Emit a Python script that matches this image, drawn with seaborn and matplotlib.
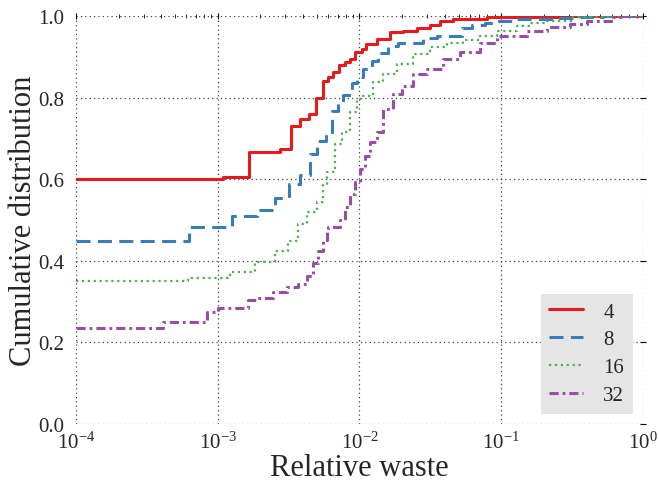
import pandas as pd
import seaborn as sns
import matplotlib.pyplot as plt

# Step breakpoints: relative waste (x) and CDF after each step (y)
waste_4 = [1e-4, 1.09e-3, 1.65e-3, 2.75e-3, 3.29e-3, 3.80e-3, 4.41e-3, 4.93e-3, 5.53e-3,
           6.0e-3, 6.5e-3, 7.16e-3, 7.9e-3, 8.57e-3, 9.3e-3, 1.04e-2, 1.12e-2, 1.32e-2,
           1.64e-2, 2.03e-2, 2.53e-2, 3.14e-2, 3.7e-2, 4.57e-2, 7.9e-2, 0.26, 1.0]
cdf_4 = [0.600, 0.606, 0.666, 0.674, 0.731, 0.748, 0.761, 0.798, 0.841,
         0.850, 0.862, 0.881, 0.888, 0.895, 0.911, 0.919, 0.931, 0.944,
         0.960, 0.964, 0.971, 0.978, 0.988, 0.993, 0.997, 1.0, 1.0]

waste_8 = [1e-4, 6.26e-4, 1.27e-3, 1.88e-3, 2.54e-3, 3.2e-3, 3.80e-3, 4.48e-3, 5.0e-3,
           5.77e-3, 6.37e-3, 7.01e-3, 7.65e-3, 8.89e-3, 9.55e-3, 1.064e-2, 1.219e-2,
           1.35e-2, 1.59e-2, 1.87e-2, 2.81e-2, 3.50e-2, 5.26e-2, 6.19e-2, 7.67e-2,
           9.29e-2, 0.121, 0.247, 0.36, 0.52, 1.0]
cdf_8 = [0.449, 0.483, 0.511, 0.525, 0.553, 0.588, 0.611, 0.662, 0.694,
         0.711, 0.768, 0.789, 0.806, 0.837, 0.850, 0.870, 0.890,
         0.909, 0.927, 0.933, 0.946, 0.952, 0.970, 0.978, 0.984,
         0.989, 0.993, 0.995, 0.998, 1.0, 1.0]

waste_16 = [1e-4, 6.17e-4, 1.22e-3, 1.83e-3, 2.54e-3, 3.15e-3, 3.70e-3, 4.24e-3, 4.99e-3,
            5.55e-3, 5.87e-3, 6.71e-3, 7.48e-3, 8.57e-3, 9.55e-3, 1.04e-2, 1.25e-2,
            1.47e-2, 1.83e-2, 2.40e-2, 3.14e-2, 4.12e-2, 5.4e-2, 7.08e-2, 9.29e-2,
            0.1285, 0.16, 0.21, 0.32, 0.61, 1.0]
cdf_16 = [0.350, 0.358, 0.373, 0.398, 0.425, 0.449, 0.490, 0.519, 0.543,
          0.588, 0.617, 0.686, 0.715, 0.764, 0.797, 0.805, 0.838,
          0.858, 0.882, 0.907, 0.923, 0.933, 0.941, 0.952, 0.964,
          0.976, 0.982, 0.988, 0.997, 1.0, 1.0]

waste_32 = [1e-4, 4.13e-4, 8.36e-4, 1.01e-3, 1.64e-3, 1.88e-3, 2.47e-3, 3.07e-3, 3.70e-3,
            4.24e-3, 4.72e-3, 5.12e-3, 5.55e-3, 5.87e-3, 6.03e-3, 7.28e-3, 7.9e-3,
            8.57e-3, 9.3e-3, 1.008e-2, 1.094e-2, 1.186e-2, 1.32e-2, 1.47e-2, 1.73e-2,
            1.985e-2, 2.40e-2, 2.98e-2, 3.90e-2, 5.12e-2, 7.08e-2, 9.29e-2, 0.151,
            0.209, 0.305, 0.40, 0.61, 0.69, 1.0]
cdf_32 = [0.235, 0.249, 0.275, 0.284, 0.304, 0.310, 0.323, 0.335, 0.343,
          0.364, 0.394, 0.425, 0.451, 0.470, 0.484, 0.500, 0.531,
          0.564, 0.594, 0.625, 0.658, 0.690, 0.715, 0.772, 0.809,
          0.829, 0.858, 0.870, 0.895, 0.911, 0.935, 0.952, 0.964,
          0.972, 0.980, 0.988, 0.998, 1.0, 1.0]

labels = ['4', '8', '16', '32']
y_ticks = [0.0, 0.2, 0.4, 0.6, 0.8, 1.0]

sns.set_style('white')
plt.rcParams['font.family'] = ['Liberation Serif', 'DejaVu Serif']
plt.rcParams['mathtext.fontset'] = 'stix'

colors = sns.color_palette('Set1', 4)
styles = ['-', (0, (4.6, 2.4)), ':', (0, (3, 1.3, 0.9, 1.3))]
widths = [2.2, 2.2, 1.6, 2.2]

fig = plt.figure(figsize=(6.59, 4.85), dpi=100)
ax = fig.add_axes([0.1153, 0.1237, 0.8604, 0.8412])
ax.set_xscale('log')

series = [(waste_4, cdf_4), (waste_8, cdf_8), (waste_16, cdf_16), (waste_32, cdf_32)]
for (xs, ys), lab, c, ls, lw in zip(series, labels, colors, styles, widths):
    df = pd.DataFrame({'waste': xs, 'cdf': ys})
    sns.lineplot(data=df, x='waste', y='cdf', ax=ax, color=c, linestyle=ls, lw=lw,
                 drawstyle='steps-post', estimator=None, label=lab)

ax.set_xlim(1e-4, 1)
ax.set_ylim(0, 1)
ax.set_yticks(y_ticks)
ax.set_yticklabels([f'{t:.1f}' for t in y_ticks])
for s in ax.spines.values():
    s.set_visible(False)
ax.grid(True, which='major', color='0.25', linestyle=(0, (1, 2.5)), linewidth=0.9)
ax.tick_params(which='both', direction='inout', top=True, right=True, color='black',
               labelsize=15)
ax.tick_params(axis='y', pad=6)
ax.tick_params(axis='x', pad=3)
ax.tick_params(which='major', length=5, width=0.8)
ax.tick_params(which='minor', length=3, width=0.6)

ax.set_xlabel('Relative waste', fontsize=22, labelpad=0)
ax.set_ylabel('Cumulative distribution', fontsize=22, labelpad=0)

leg = ax.legend(loc='lower right', fontsize=15, frameon=True, fancybox=False,
                facecolor='#e5e5e5', edgecolor='none', framealpha=1,
                handlelength=1.6, handletextpad=1.0, labelspacing=0.4)

fig.savefig('out.png', dpi=100)
